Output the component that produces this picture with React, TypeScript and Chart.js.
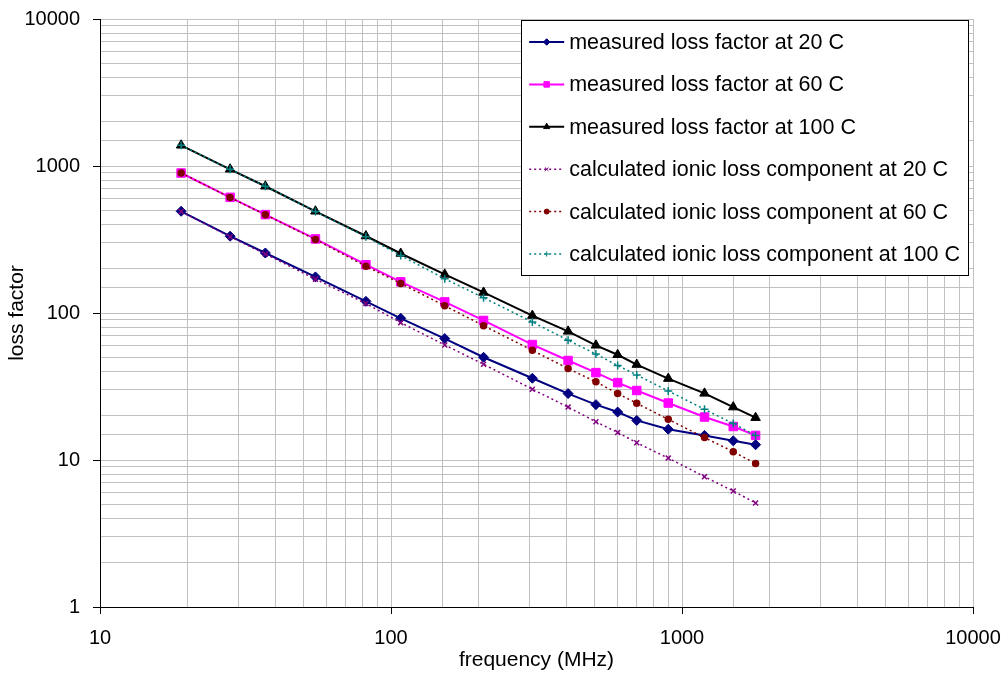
import React, { useEffect, useRef } from "react";
import { Chart, registerables } from "chart.js";
import { drawPoint } from "chart.js/helpers";

Chart.register(...registerables);

const frequencies = [19, 28, 37, 55, 82, 108, 153, 208, 306, 406, 506, 601, 699, 897, 1195, 1500, 1790];
const measured20 = [492, 333, 256, 176, 120, 92, 67, 50, 36, 28.3, 23.8, 21.2, 18.6, 16.2, 14.7, 13.5, 12.7];
const measured60 = [896, 612, 467, 319, 213, 163, 119, 89, 61, 47.5, 39.3, 33.6, 29.7, 24.4, 19.6, 16.9, 14.7];
const measured100 = [1383, 950, 728, 492, 334, 254, 183, 138, 96, 75, 60.3, 52, 44.6, 35.8, 28.4, 22.9, 19.4];
const calc20 = [490, 330, 252, 170, 116, 86, 60.6, 44.8, 30.3, 22.9, 18.2, 15.4, 13.1, 10.3, 7.7, 6.15, 5.1];
const calc60 = [896, 610, 466, 316, 208, 159, 112, 82, 55.7, 41.9, 34, 28.3, 24.3, 18.9, 14.2, 11.4, 9.45];
const calc100 = [1383, 950, 728, 490, 330, 246, 171, 127, 86.9, 65.2, 52.6, 43.9, 37.9, 29.5, 22.1, 17.7, 14.7];

const seriesLabels = [
  "measured loss factor at 20 C",
  "measured loss factor at 60 C",
  "measured loss factor at 100 C",
  "calculated ionic loss component at 20 C",
  "calculated ionic loss component at 60 C",
  "calculated ionic loss component at 100 C",
];

const FONT = "'Liberation Sans', Arial, sans-serif";

const isPow10 = (v: number) => Math.abs(Math.log10(v) - Math.round(Math.log10(v))) < 1e-9;

const toPoints = (ys: number[]) => frequencies.map((x, i) => ({ x, y: ys[i] }));

const legendPlugin = {
  id: "insideLegend",
  afterDraw(chart: any) {
    const { ctx, chartArea } = chart;
    const fontSize = 21.5;
    ctx.save();
    ctx.font = `${fontSize}px ${FONT}`;
    const ds = chart.data.datasets;
    let maxW = 0;
    ds.forEach((d: any) => {
      maxW = Math.max(maxW, ctx.measureText(d.label).width);
    });
    const right = chartArea.right - 5;
    const width = 48 + maxW + 8;
    const left = right - width;
    const top = chartArea.top + 1;
    const rowH = 42.4;
    const height = rowH * ds.length + 1;
    ctx.fillStyle = "#ffffff";
    ctx.fillRect(left, top, width, height);
    ctx.strokeStyle = "#000000";
    ctx.lineWidth = 1;
    ctx.strokeRect(Math.round(left) + 0.5, Math.round(top) + 0.5, Math.round(width), Math.round(height));
    ds.forEach((d: any, i: number) => {
      const cy = top + 22 + i * rowH;
      ctx.save();
      ctx.strokeStyle = d.borderColor;
      ctx.lineWidth = d.borderWidth;
      ctx.setLineDash(d.borderDash || []);
      ctx.beginPath();
      ctx.moveTo(left + 8, cy);
      ctx.lineTo(left + 43, cy);
      ctx.stroke();
      ctx.setLineDash([]);
      ctx.fillStyle = d.pointBackgroundColor;
      ctx.strokeStyle = d.pointBorderColor;
      ctx.lineWidth = 1;
      drawPoint(ctx, { pointStyle: d.pointStyle, radius: Math.max(2.5, d.pointRadius * 0.65), rotation: 0, borderWidth: 1 }, left + 25.5, cy);
      ctx.restore();
      ctx.fillStyle = "#000000";
      ctx.textBaseline = "middle";
      ctx.textAlign = "left";
      ctx.fillText(d.label, left + 48, cy + 1);
    });
    ctx.restore();
  },
};

export default function App() {
  const canvasRef = useRef<HTMLCanvasElement | null>(null);

  useEffect(() => {
    if (!canvasRef.current) return;
    Chart.defaults.font.family = FONT;
    Chart.defaults.color = "#000000";

    const mk = (
      i: number,
      ys: number[],
      color: string,
      style: string,
      radius: number,
      dashed: boolean,
      fill: string
    ) => ({
      label: seriesLabels[i],
      data: toPoints(ys),
      showLine: true,
      borderColor: color,
      borderWidth: dashed ? 1.5 : 2,
      borderDash: dashed ? [2, 3] : [],
      pointStyle: style,
      pointRadius: radius,
      pointBackgroundColor: fill,
      pointBorderColor: color,
      pointBorderWidth: dashed ? 1.5 : 1,
      order: dashed ? 0 : 1,
      tension: 0,
    });

    const chart = new Chart(canvasRef.current, {
      type: "scatter",
      data: {
        datasets: [
          mk(0, measured20, "#000080", "rectRot", 5, false, "#000080"),
          mk(1, measured60, "#ff00ff", "rect", 6, false, "#ff00ff"),
          mk(2, measured100, "#000000", "triangle", 5.5, false, "#000000"),
          mk(3, calc20, "#800080", "crossRot", 3.5, true, "#800080"),
          mk(4, calc60, "#800000", "circle", 3, true, "#800000"),
          mk(5, calc100, "#008080", "cross", 4, true, "#008080"),
        ] as any,
      },
      options: {
        animation: false,
        responsive: true,
        maintainAspectRatio: false,
        layout: { padding: { top: 19, right: 33, bottom: 0, left: 0 } },
        plugins: {
          legend: { display: false },
          tooltip: { enabled: false },
          title: { display: false },
        },
        scales: {
          x: {
            type: "logarithmic",
            min: 10,
            max: 10000,
            afterFit: (s: any) => {
              s.height = 66;
              s.paddingLeft = 0;
              s.paddingRight = 0;
            },
            border: { color: "#000000", width: 1 },
            grid: {
              color: "#c0c0c0",
              lineWidth: 1,
              tickLength: 7,
              tickColor: (c: any) => (c.tick && isPow10(c.tick.value) ? "#000000" : "rgba(0,0,0,0)"),
            },
            ticks: {
              autoSkip: false,
              maxRotation: 0,
              padding: 12,
              font: { size: 20, family: FONT },
              callback: (v: any) => (isPow10(Number(v)) ? String(Math.round(Number(v))) : ""),
            },
            title: {
              display: true,
              text: "frequency (MHz)",
              font: { size: 21, family: FONT },
              padding: { top: 0, bottom: 0 },
            },
          },
          y: {
            type: "logarithmic",
            min: 1,
            max: 10000,
            afterFit: (s: any) => {
              s.width = 100;
              s.paddingTop = 0;
              s.paddingBottom = 0;
            },
            border: { color: "#000000", width: 1 },
            grid: {
              color: "#c0c0c0",
              lineWidth: 1,
              tickLength: 7,
              tickColor: (c: any) => (c.tick && isPow10(c.tick.value) ? "#000000" : "rgba(0,0,0,0)"),
            },
            ticks: {
              autoSkip: false,
              padding: 13,
              font: { size: 20, family: FONT },
              callback: (v: any) => (isPow10(Number(v)) ? String(Math.round(Number(v))) : ""),
            },
            title: {
              display: true,
              text: "loss factor",
              font: { size: 21, family: FONT },
              padding: { top: 5, bottom: 0 },
            },
          },
        },
      },
      plugins: [legendPlugin],
    });

    return () => chart.destroy();
  }, []);

  return (
    <div style={{ position: "absolute", left: 0, top: 0, width: 1006, height: 673, background: "#ffffff" }}>
      <canvas ref={canvasRef} />
    </div>
  );
}
